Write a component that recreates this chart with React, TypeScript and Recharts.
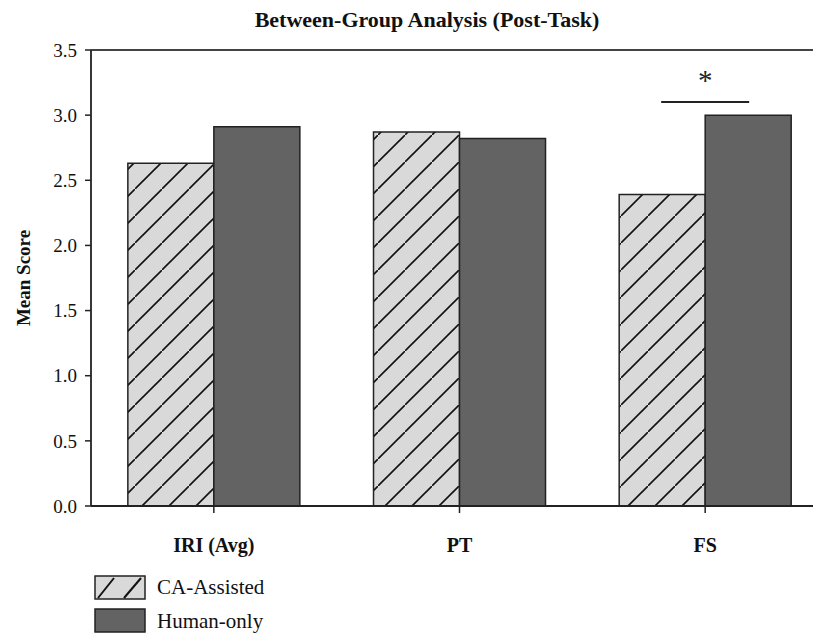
import { BarChart, Bar, XAxis, YAxis, ReferenceLine, ReferenceDot } from 'recharts';

const categories = ['IRI (Avg)', 'PT', 'FS'];
const caAssisted = [2.63, 2.87, 2.39];
const humanOnly = [2.91, 2.82, 3.0];
const yTicks = [0, 0.5, 1.0, 1.5, 2.0, 2.5, 3.0, 3.5];
// significance bar over FS
const sigCategory = 'FS';
const sigLevel = 3.1;

const serif = '"Liberation Serif", "DejaVu Serif", serif';

const chartData = categories.map((name, i) => ({ name, ca: caAssisted[i], human: humanOnly[i] }));

function SigMark(props: any) {
  const { cx, cy } = props;
  if (cx == null || cy == null) return null;
  return (
    <g>
      <line x1={cx - 44} x2={cx + 44} y1={cy} y2={cy} stroke="#222" strokeWidth={2} />
      <text x={cx} y={cy - 12} textAnchor="middle" fontFamily={serif} fontSize={29} fill="#222">*</text>
    </g>
  );
}

function YLabel(props: any) {
  const vb = props.viewBox || {};
  const x = 23;
  const y = vb.y + vb.height / 2;
  return (
    <text x={x} y={y} transform={`rotate(-90, ${x}, ${y})`} textAnchor="middle" dominantBaseline="central"
      fontFamily={serif} fontSize={19} fontWeight="bold" fill="#111">
      Mean Score
    </text>
  );
}

function Swatch({ hatched }: { hatched: boolean }) {
  return (
    <svg width={52} height={25} style={{ display: 'block' }}>
      <rect x={1} y={1} width={50} height={23} fill={hatched ? '#d9d9d9' : '#636363'} stroke="#222" strokeWidth={1.5} />
      {hatched && (
        <g stroke="#111" strokeWidth={2}>
          <line x1={4} y1={23} x2={20} y2={3} />
          <line x1={30} y1={23} x2={47} y2={3} />
        </g>
      )}
    </svg>
  );
}

export default function App() {
  return (
    <div style={{ position: 'absolute', left: 0, top: 0, width: 813, height: 634, overflow: 'hidden', background: '#fff', fontFamily: serif }}>
      <div style={{ position: 'absolute', left: 100, width: 654, top: 9, textAlign: 'center', fontSize: 22, lineHeight: '22px', fontWeight: 'bold', color: '#111' }}>
        Between-Group Analysis (Post-Task)
      </div>
      <BarChart width={830} height={634} data={chartData} margin={{ top: 50, right: 2, left: 0, bottom: 68 }}
        barCategoryGap="15%" barGap={0}>
        <defs>
          <pattern id="hatch" patternUnits="userSpaceOnUse" width={27} height={27}>
            <rect width={27} height={27} fill="#d9d9d9" />
            <line x1={-2} y1={29} x2={29} y2={-2} stroke="#111" strokeWidth={1.6} />
          </pattern>
        </defs>
        <XAxis dataKey="name" axisLine={{ stroke: '#222', strokeWidth: 1.8 }} tickLine={{ stroke: '#222', strokeWidth: 1.5 }}
          tickSize={7} tickMargin={25} height={60} interval={0}
          tick={{ fontFamily: serif, fontSize: 20, fontWeight: 'bold', fill: '#111' }} />
        <YAxis domain={[0, 3.5]} ticks={yTicks} width={91} allowDataOverflow
          axisLine={{ stroke: '#222', strokeWidth: 1.8 }} tickLine={{ stroke: '#222', strokeWidth: 1.5 }}
          tickSize={6} tickMargin={8} tickFormatter={(v: number) => v.toFixed(1)}
          tick={{ fontFamily: serif, fontSize: 19, fill: '#111' }}
          label={<YLabel />} />
        <ReferenceLine y={3.5} stroke="#444" strokeWidth={1.8} />
        <Bar dataKey="ca" name="CA-Assisted" fill="url(#hatch)" stroke="#222" strokeWidth={1.5} isAnimationActive={false} />
        <Bar dataKey="human" name="Human-only" fill="#636363" stroke="#222" strokeWidth={1.5} isAnimationActive={false} />
        <ReferenceDot x={sigCategory} y={sigLevel} shape={<SigMark />} ifOverflow="visible" />
      </BarChart>
      <div style={{ position: 'absolute', left: 94, top: 575, fontSize: 21, color: '#111' }}>
        <div style={{ display: 'flex', alignItems: 'center', height: 25, marginBottom: 8 }}>
          <Swatch hatched />
          <span style={{ marginLeft: 11 }}>CA-Assisted</span>
        </div>
        <div style={{ display: 'flex', alignItems: 'center', height: 25 }}>
          <Swatch hatched={false} />
          <span style={{ marginLeft: 11, lineHeight: '22px' }}>Human-only</span>
        </div>
      </div>
    </div>
  );
}
